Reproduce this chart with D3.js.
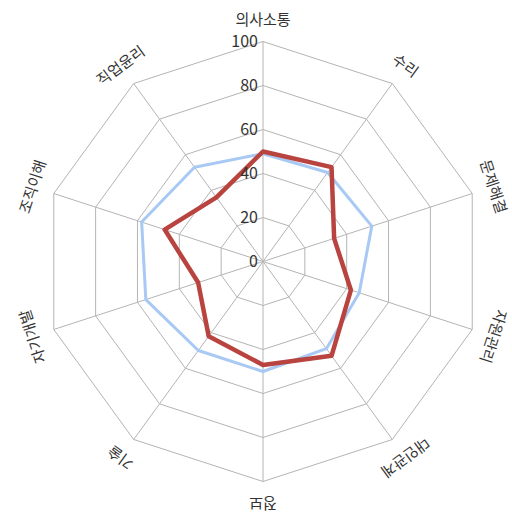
<!DOCTYPE html>
<html>
<head>
<meta charset="utf-8">
<script src="https://cdn.jsdelivr.net/npm/d3@7"></script>
<style>
  html, body { margin: 0; padding: 0; background: #fff; }
  svg { display: block; }
</style>
</head>
<body>
<svg id="chart" width="512" height="519"></svg>
<script>
const categories = ['의사소통', '수리', '문제해결', '자원관리', '대인관계', '정보', '기술', '자기개발', '조직이해', '직업윤리'];
const blueValues = [49, 50, 52, 46, 49, 50, 50, 56, 58, 53];
const redValues = [50, 53, 34, 42, 53, 47, 42, 31, 47, 36];
const tickValues = [0, 20, 40, 60, 80, 100];

const width = 512;
const height = 519;
const cx = 263;
const cy = 261.5;
const radius = 220;

const svg = d3.select('#chart')
  .attr('font-family', '"Noto Sans CJK KR", "Noto Sans", sans-serif');

const g = svg.append('g').attr('transform', `translate(${cx},${cy})`);

const r = d3.scaleLinear().domain([0, 100]).range([0, radius]);
const angle = d3.scaleLinear().domain([0, categories.length]).range([0, 2 * Math.PI]);

const line = d3.lineRadial()
  .angle((d, i) => angle(i))
  .radius(d => r(d))
  .curve(d3.curveLinearClosed);

// grid rings
g.append('g')
  .selectAll('path')
  .data(tickValues.slice(1))
  .join('path')
  .attr('d', t => line(categories.map(() => t)))
  .attr('fill', 'none')
  .attr('stroke', '#b4b4b4')
  .attr('stroke-width', 1);

// spokes
g.append('g')
  .selectAll('line')
  .data(categories)
  .join('line')
  .attr('x1', 0)
  .attr('y1', 0)
  .attr('x2', (d, i) => r(100) * Math.sin(angle(i)))
  .attr('y2', (d, i) => -r(100) * Math.cos(angle(i)))
  .attr('stroke', '#b4b4b4')
  .attr('stroke-width', 1);

// series
g.append('path')
  .attr('d', line(blueValues))
  .attr('fill', 'none')
  .attr('stroke', '#a7c9f4')
  .attr('stroke-width', 3)
  .attr('stroke-linejoin', 'round');

g.append('path')
  .attr('d', line(redValues))
  .attr('fill', 'none')
  .attr('stroke', '#b8433f')
  .attr('stroke-width', 4.5)
  .attr('stroke-linejoin', 'round');

// tick labels
g.append('g')
  .selectAll('text')
  .data(tickValues)
  .join('text')
  .attr('x', -5)
  .attr('y', d => -r(d))
  .attr('dy', '0.35em')
  .attr('text-anchor', 'end')
  .attr('font-size', 16)
  .attr('fill', '#333')
  .text(d => d);

// category labels
g.append('g')
  .selectAll('text')
  .data(categories)
  .join('text')
  .attr('transform', (d, i) => {
    const a = angle(i);
    const lr = radius + 22;
    const x = lr * Math.sin(a);
    const y = -lr * Math.cos(a);
    return `translate(${x},${y}) rotate(${a * 180 / Math.PI})`;
  })
  .attr('text-anchor', 'middle')
  .attr('dy', '0.35em')
  .attr('font-size', 15)
  .attr('fill', '#333')
  .text(d => d);
</script>
</body>
</html>
